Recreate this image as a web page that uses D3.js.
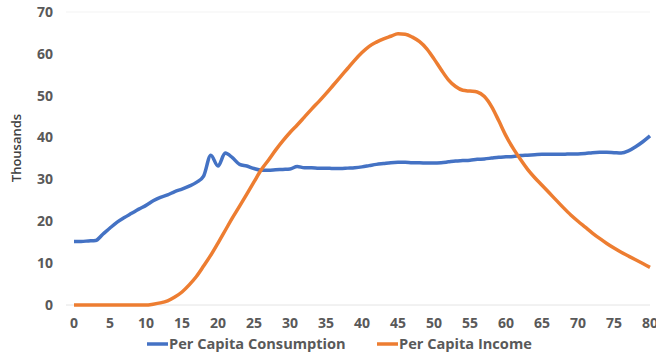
<!DOCTYPE html>
<html lang="en">
<head>
    <meta charset="UTF-8">
    <title>Per Capita Consumption and Income</title>
    <script src="https://d3js.org/d3.v7.min.js"></script>
</head>
<body style="margin:0;background:#fff">
    <style>
        .chart text {
          font-family: "Open Sans", sans-serif;
          font-weight: 700;
          fill: #595959;
        }
    </style>
    <div class="chart"></div>

    <script>
  // ages 0..80
  const ages = d3.range(0, 81)
  const consumption = [
    15.2, 15.2, 15.3, 15.4, 16.9, 18.4, 19.8, 20.9, 21.9, 22.9,
    23.8, 24.9, 25.7, 26.3, 27.1, 27.7, 28.4, 29.3, 30.8, 35.8,
    33.2, 36.3, 35.2, 33.6, 33.2, 32.6, 32.2, 32.2, 32.3, 32.4,
    32.5, 33.1, 32.8, 32.8, 32.7, 32.7, 32.6, 32.6, 32.7, 32.8,
    33.0, 33.3, 33.6, 33.8, 34.0, 34.1, 34.1, 34.0, 34.0, 33.9,
    33.9, 34.0, 34.2, 34.4, 34.5, 34.6, 34.8, 34.9, 35.1, 35.3,
    35.4, 35.5, 35.7, 35.8, 35.9, 36.0, 36.0, 36.0, 36.0, 36.1,
    36.1, 36.2, 36.4, 36.5, 36.5, 36.4, 36.3, 36.8, 37.8, 39.0,
    40.4
  ]
  const income = [
    0, 0, 0, 0, 0, 0, 0, 0, 0, 0,
    0, 0.2, 0.5, 1.0, 1.9, 3.1, 4.8, 6.8, 9.3, 11.9,
    14.8, 17.8, 20.8, 23.6, 26.5, 29.4, 32.3, 34.6, 37.0, 39.2,
    41.2, 43.0, 44.9, 46.8, 48.6, 50.5, 52.5, 54.5, 56.5, 58.5,
    60.3, 61.8, 62.8, 63.6, 64.2, 64.8, 64.7, 64.0, 62.9, 61.2,
    58.8, 56.2, 53.8, 52.2, 51.3, 51.1, 50.9, 49.8, 47.4, 44.0,
    40.4, 37.4, 34.8, 32.4, 30.4, 28.6, 26.8, 25.0, 23.2, 21.5,
    20.0, 18.6, 17.2, 15.9, 14.7, 13.6, 12.6, 11.7, 10.8, 9.9,
    9.0
  ]
  const xTicks = d3.range(0, 81, 5)
  const yTicks = [0, 10, 20, 30, 40, 50, 60, 70]
  const seriesNames = ["Per Capita Consumption", "Per Capita Income"]
  const seriesColors = ["#4472C4", "#ED7D31"]

  const svgWidth = 656, svgHeight = 358
  const margin = {top: 12, right: 6, bottom: 53, left: 74}
  const width = svgWidth - margin.left - margin.right
  const height = svgHeight - margin.top - margin.bottom

  const svg = d3.select(".chart")
    .append("svg")
    .attr("width", svgWidth)
    .attr("height", svgHeight)

  const g = svg.append("g")
    .attr("transform", `translate(${margin.left},${margin.top})`)

  const x = d3.scaleLinear().domain([0, 80]).range([0, width])
  const y = d3.scaleLinear().domain([0, 70]).range([height, 0])

  // faint top line and baseline
  g.append("line")
    .attr("x1", -8).attr("x2", width)
    .attr("y1", y(70)).attr("y2", y(70))
    .attr("stroke", "#f3f3f3")
  g.append("line")
    .attr("x1", -8).attr("x2", width)
    .attr("y1", y(0)).attr("y2", y(0))
    .attr("stroke", "#e4e4e4")

  // y axis labels
  g.append("g").selectAll("text")
    .data(yTicks)
    .join("text")
      .attr("x", -21)
      .attr("y", d => y(d))
      .attr("dy", "0.35em")
      .attr("text-anchor", "end")
      .style("font-size", "14px")
      .text(d => d)

  // x axis labels
  g.append("g").selectAll("text")
    .data(xTicks)
    .join("text")
      .attr("x", d => x(d))
      .attr("y", height + 18)
      .attr("dy", "0.35em")
      .attr("text-anchor", "middle")
      .style("font-size", "14px")
      .text(d => d)

  // axis title
  svg.append("text")
    .attr("transform", `translate(21,148) rotate(-90)`)
    .attr("text-anchor", "middle")
    .style("font-size", "13px")
    .style("font-weight", "600")
    .style("fill", "#404040")
    .text("Thousands")

  // lines
  const line = d3.line()
    .x((d, i) => x(ages[i]))
    .y(d => y(d))
    .curve(d3.curveMonotoneX)

  ;[consumption, income].forEach((s, i) => {
    g.append("path")
      .datum(s)
      .attr("fill", "none")
      .attr("stroke", seriesColors[i])
      .attr("stroke-width", 3.5)
      .attr("stroke-linejoin", "round")
      .attr("d", line)
  })

  // legend
  const legendX = [147, 377]
  const legend = svg.append("g")
  seriesNames.forEach((name, i) => {
    legend.append("line")
      .attr("x1", legendX[i]).attr("x2", legendX[i] + 21)
      .attr("y1", 344).attr("y2", 344)
      .attr("stroke", seriesColors[i])
      .attr("stroke-width", 3.5)
    legend.append("text")
      .attr("x", legendX[i] + 22)
      .attr("y", 344)
      .attr("dy", "0.35em")
      .style("font-size", "14.6px")
      .text(name)
  })
    </script>
</body>
</html>
